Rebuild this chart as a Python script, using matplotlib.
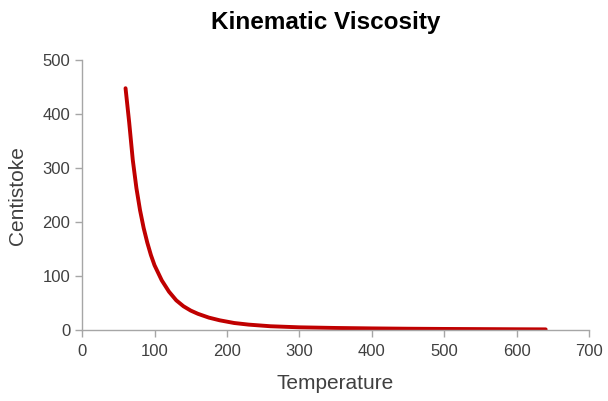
import matplotlib
matplotlib.use("Agg")
import matplotlib.pyplot as plt

plt.rcParams['font.family'] = ['Liberation Sans', 'DejaVu Sans']

# data
temperature = [60, 65, 70, 75, 80, 85, 90, 95, 100, 110, 120, 130, 140, 150,
               160, 175, 190, 210, 230, 260, 300, 350, 400, 450, 500, 550,
               600, 640]
centistoke = [448, 385, 315, 263, 222, 189, 162, 139, 120, 92, 71, 55, 44, 36,
              30, 23, 18, 13, 10, 7, 5, 3.8, 3, 2.4, 2, 1.7, 1.4, 1.2]

x_ticks = [0, 100, 200, 300, 400, 500, 600, 700]
y_ticks = [0, 100, 200, 300, 400, 500]

AXIS_COLOR = "#a6a6a6"
TEXT_COLOR = "#404040"

fig = plt.figure(figsize=(6.08, 4.01), dpi=100)
ax = fig.add_axes([0.135, 0.177, 0.834, 0.673])

ax.plot(temperature, centistoke, color="#c00000", linewidth=2.8,
        solid_capstyle="round", solid_joinstyle="round")

ax.set_xlim(0, 700)
ax.set_ylim(0, 500)
ax.set_xticks(x_ticks)
ax.set_yticks(y_ticks)

for side in ["top", "right"]:
    ax.spines[side].set_visible(False)
for side in ["left", "bottom"]:
    ax.spines[side].set_color(AXIS_COLOR)
    ax.spines[side].set_linewidth(1.0)

ax.tick_params(axis="both", colors=AXIS_COLOR, labelcolor=TEXT_COLOR,
               labelsize=12, length=5, width=1.0, direction="out")
ax.tick_params(axis="x", pad=5)

ax.set_xlabel("Temperature", fontsize=15, color=TEXT_COLOR)
ax.set_ylabel("Centistoke", fontsize=15, color=TEXT_COLOR)
ax.xaxis.set_label_coords(0.5, -0.2)
ax.yaxis.set_label_coords(-0.128, 0.5)
ax.xaxis.label.set_va("center")
ax.yaxis.label.set_va("center")

fig.text(0.535, 0.945, "Kinematic Viscosity", fontsize=17.5,
         fontweight="bold", color="#000000", ha="center", va="center")

fig.savefig("out.png", dpi=100)
